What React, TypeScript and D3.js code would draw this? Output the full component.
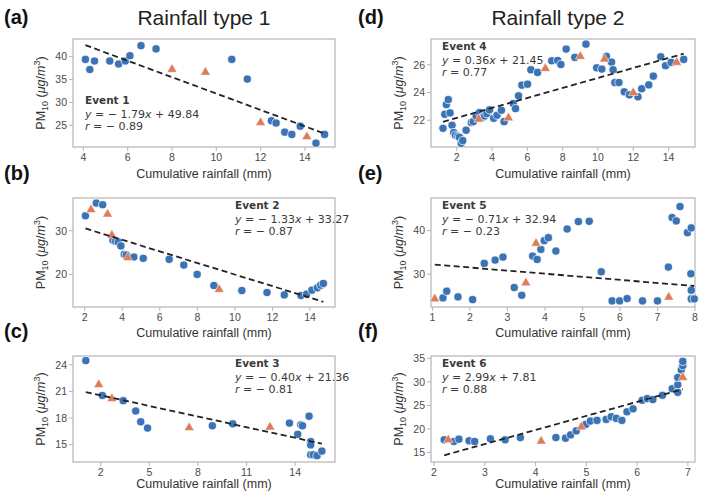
import * as d3 from "d3";

// Observed PM10 vs cumulative rainfall, [rainfall mm, PM10]
const event1Obs: [number, number][] = [
  [4.09, 39.4], [4.29, 37.2], [4.5, 39.05], [5.19, 39.05], [5.59, 38.4], [5.89, 39.05],
  [6.1, 40.2], [6.6, 42.4], [7.28, 41.7], [10.7, 39.4], [11.4, 35.1], [12.49, 26.0],
  [12.7, 25.5], [13.09, 23.5], [13.41, 23.0], [13.79, 24.8], [14.5, 21.1], [14.89, 23.0],
];
const event1Tri: [number, number][] = [[8.0, 37.2], [9.51, 36.6], [12.0, 25.6], [14.09, 22.5]];

const event2Obs: [number, number][] = [
  [2.04, 33.46], [2.62, 36.38], [2.96, 36.0], [3.51, 27.85], [3.65, 27.6], [3.79, 27.46],
  [3.93, 26.54], [4.11, 24.6], [4.22, 24.46], [4.62, 24.0], [5.12, 23.7], [6.5, 23.46],
  [7.28, 22.15], [7.99, 20.0], [8.88, 17.46], [10.37, 16.3], [11.71, 15.85], [12.63, 15.3],
  [13.52, 15.15], [13.82, 15.46], [14.1, 16.38], [14.39, 16.92], [14.57, 17.54], [14.71, 17.92],
];
const event2Tri: [number, number][] = [[2.34, 34.85], [3.22, 33.85], [3.45, 29.0], [4.29, 23.85], [9.16, 16.54]];

const event3Obs: [number, number][] = [
  [1.08, 24.48], [2.1, 20.54], [3.39, 19.95], [4.16, 18.79], [4.47, 17.57], [4.89, 16.86],
  [8.89, 17.12], [10.15, 17.34], [13.65, 17.42], [14.16, 16.15], [14.35, 17.23], [14.45, 17.12],
  [14.86, 18.2], [14.96, 15.33], [14.96, 14.96], [14.96, 13.85], [15.12, 13.85], [15.35, 13.74],
  [15.65, 14.26],
];
const event3Tri: [number, number][] = [[1.88, 21.77], [2.69, 20.17], [7.46, 16.9], [12.45, 16.97]];

const event4Obs: [number, number][] = [
  [1.22, 21.42], [1.32, 22.43], [1.41, 23.13], [1.52, 23.49], [1.62, 22.53], [1.73, 21.64],
  [1.83, 21.11], [1.92, 20.92], [2.06, 20.84], [2.15, 20.77], [2.25, 20.34], [2.34, 20.53],
  [2.53, 21.28], [2.82, 21.83], [2.93, 21.9], [3.1, 22.31], [3.29, 22.55], [3.48, 22.22],
  [3.58, 22.31], [3.71, 22.48], [3.86, 22.75], [4.09, 22.14], [4.28, 22.36], [4.53, 22.72],
  [4.68, 21.9], [5.2, 23.2], [5.33, 22.84], [5.5, 23.76], [5.69, 24.53], [6.01, 24.6],
  [6.2, 25.64], [6.58, 25.45], [7.38, 26.29], [7.72, 26.31], [7.9, 26.02], [8.2, 27.13],
  [8.69, 26.53], [9.32, 27.49], [9.93, 25.78], [10.22, 25.69], [10.48, 26.6], [10.77, 26.19],
  [10.86, 25.64], [10.96, 24.72], [11.19, 24.72], [11.49, 24.05], [11.78, 23.83], [12.27, 23.69],
  [12.48, 24.27], [12.88, 24.55], [13.14, 25.18], [13.56, 26.58], [13.83, 25.93], [14.15, 26.17],
  [14.86, 26.39],
];
const event4Tri: [number, number][] = [
  [3.24, 22.07], [4.93, 22.17], [7.02, 25.73], [9.0, 26.6], [10.37, 26.41], [12.0, 23.99], [14.46, 26.17],
];

const event5Obs: [number, number][] = [
  [1.28, 24.54], [1.38, 26.08], [1.68, 24.77], [2.07, 24.15], [2.38, 32.46], [2.67, 33.23],
  [2.88, 33.92], [3.18, 26.92], [3.38, 25.15], [3.67, 34.15], [3.79, 33.38], [3.89, 35.69],
  [3.98, 37.69], [4.09, 38.38], [4.29, 35.31], [4.59, 40.38], [4.89, 42.08], [5.18, 42.15],
  [5.5, 30.54], [5.79, 23.85], [5.99, 23.85], [6.19, 24.38], [6.6, 23.85], [7.0, 23.85],
  [7.29, 31.62], [7.39, 43.0], [7.5, 42.23], [7.6, 45.54], [7.8, 39.54], [7.9, 40.62],
  [7.89, 30.08], [7.9, 26.3], [7.9, 24.3], [7.98, 24.3],
];
const event5Tri: [number, number][] = [[1.06, 24.3], [3.49, 28.0], [3.76, 37.08], [7.3, 24.7]];

const event6Obs: [number, number][] = [
  [2.2, 17.67], [2.39, 17.32], [2.49, 17.81], [2.69, 17.46], [2.8, 17.32], [3.11, 17.88],
  [3.4, 17.67], [3.7, 18.16], [4.4, 18.16], [4.59, 18.02], [4.69, 18.72], [4.8, 19.56],
  [4.99, 20.96], [5.08, 21.67], [5.21, 21.81], [5.39, 22.02], [5.49, 22.58], [5.59, 22.23],
  [5.7, 21.81], [5.8, 23.63], [5.92, 24.26], [6.1, 26.09], [6.2, 26.44], [6.31, 26.23],
  [6.5, 27.14], [6.69, 28.54], [6.8, 27.77], [6.8, 29.39], [6.8, 30.93], [6.87, 32.54],
  [6.9, 33.46], [6.9, 34.37],
];
const event6Tri: [number, number][] = [[2.28, 17.67], [4.11, 17.39], [4.9, 20.4], [6.9, 30.93]];

const circleSets = [event1Obs, event2Obs, event3Obs, event4Obs, event5Obs, event6Obs];
const triangleSets = [event1Tri, event2Tri, event3Tri, event4Tri, event5Tri, event6Tri];

// linear fit per event
const fitSlope = [-1.79, -1.33, -0.4, 0.36, -0.71, 2.99];
const fitIntercept = [49.84, 33.27, 21.36, 21.45, 32.94, 7.81];
const fitR = [-0.89, -0.87, -0.81, 0.77, -0.23, 0.88];

const eventNames = ["Event 1", "Event 2", "Event 3", "Event 4", "Event 5", "Event 6"];
const panelTags = ["(a)", "(b)", "(c)", "(d)", "(e)", "(f)"];
const columnTitles = ["Rainfall type 1", "Rainfall type 2"];

const xTicks = [
  [4, 6, 8, 10, 12, 14],
  [2, 4, 6, 8, 10, 12, 14],
  [2, 5, 8, 11, 14],
  [2, 4, 6, 8, 10, 12, 14],
  [1, 2, 3, 4, 5, 6, 7, 8],
  [2, 3, 4, 5, 6, 7],
];
const yTicks = [
  [25, 30, 35, 40],
  [20, 30],
  [15, 18, 21, 24],
  [22, 24, 26],
  [30, 40],
  [15, 20, 25, 30, 35],
];
const xDomains: [number, number][] = [
  [3.53, 15.36], [1.38, 15.33], [0.29, 16.46], [0.54, 15.5], [0.96, 8.0], [1.94, 7.14],
];
const yDomains: [number, number][] = [
  [20.26, 43.86], [12.52, 37.55], [13.03, 25.0], [20.07, 27.86], [22.45, 47.5], [12.96, 35.5],
];

const W = 701;
const H = 494;
const colX = [[73, 335], [431, 695]];
const rowY = [[39, 147], [198, 307], [356, 462]];
const xLabelGap = [31, 30, 26];

const BLUE = "#3b73b5";
const ORANGE = "#de7c57";
const FRAME = "#b5b5b5";
const TICK_TEXT = "#4a4a4a";
const SANS = "'Liberation Sans', Arial, sans-serif";
const MATH = "'DejaVu Sans', sans-serif";

const triangle = d3.symbol(d3.symbolTriangle, 42)();

function fmtNum(v: number) {
  return v < 0 ? `\u2212 ${Math.abs(v).toFixed(2)}` : v.toFixed(2);
}

function Panel({ i }: { i: number }) {
  const col = i < 3 ? 0 : 1;
  const row = i % 3;
  const [x0, x1] = colX[col];
  const [y0, y1] = rowY[row];
  const x = d3.scaleLinear().domain(xDomains[i]).range([x0, x1]);
  const y = d3.scaleLinear().domain(yDomains[i]).range([y1, y0]);

  const allX = [...circleSets[i], ...triangleSets[i]].map((d) => d[0]);
  const [lx0, lx1] = d3.extent(allX) as [number, number];
  const fit = (v: number) => fitSlope[i] * v + fitIntercept[i];
  const line = d3.line<number>().x((v) => x(v)).y((v) => y(fit(v)));

  // annotation anchor
  let ax = x0 + 11;
  let ay = y0 + 11;
  if (i === 0) {
    ax = x0 + 12;
    ay = y1 - 43;
  } else if (i === 1 || i === 2) {
    ax = x0 + 162;
  }

  const midY = (y0 + y1) / 2;
  const midX = (x0 + x1) / 2;
  const tagY = row === 0 ? 24 : y0 - 18;
  const tagX = col === 0 ? 4 : 358;

  return (
    <g>
      <text x={tagX} y={tagY} fontFamily={SANS} fontWeight="bold" fontSize={20} fill="#111">
        {panelTags[i]}
      </text>

      {/* ticks */}
      {xTicks[i].map((t) => (
        <g key={`x${t}`}>
          <line x1={x(t)} x2={x(t)} y1={y1} y2={y1 + 4} stroke={FRAME} strokeWidth={1} />
          <text x={x(t)} y={y1 + 13.5} textAnchor="middle" fontFamily={SANS} fontSize={10.5} fill={TICK_TEXT}>
            {t}
          </text>
        </g>
      ))}
      {yTicks[i].map((t) => (
        <g key={`y${t}`}>
          <line x1={x0 - 4} x2={x0} y1={y(t)} y2={y(t)} stroke={FRAME} strokeWidth={1} />
          <text x={x0 - 6} y={y(t) + 3.8} textAnchor="end" fontFamily={SANS} fontSize={10.5} fill={TICK_TEXT}>
            {t}
          </text>
        </g>
      ))}

      {/* frame */}
      <rect x={x0} y={y0} width={x1 - x0} height={y1 - y0} fill="none" stroke={FRAME} strokeWidth={1.2} />

      {/* points */}
      {circleSets[i].map((d, k) => (
        <circle key={`c${k}`} cx={x(d[0])} cy={y(d[1])} r={4.1} fill={BLUE} stroke="#fff" strokeWidth={0.7} />
      ))}
      {triangleSets[i].map((d, k) => (
        <path
          key={`t${k}`}
          d={triangle}
          transform={`translate(${x(d[0])},${y(d[1])})`}
          fill={ORANGE}
          stroke="#fff"
          strokeWidth={0.5}
        />
      ))}

      {/* fitted line */}
      <path d={line([lx0, lx1]) ?? ""} fill="none" stroke="#222" strokeWidth={1.8} strokeDasharray="6,3.5" />

      {/* regression annotation */}
      <g fontFamily={MATH} fontSize={11} fill="#3a3a3a">
        <text x={ax} y={ay} fontWeight="bold" fontSize={10.5}>
          {eventNames[i]}
        </text>
        <text x={ax} y={ay + 14}>
          <tspan fontStyle="italic">y</tspan>
          {` = ${fmtNum(fitSlope[i])}`}
          <tspan fontStyle="italic">x</tspan>
          {` + ${fitIntercept[i].toFixed(2)}`}
        </text>
        <text x={ax} y={ay + 26}>
          <tspan fontStyle="italic">r</tspan>
          {` = ${fmtNum(fitR[i])}`}
        </text>
      </g>

      {/* axis labels */}
      <text x={midX} y={y1 + xLabelGap[row]} textAnchor="middle" fontFamily={SANS} fontSize={12.5} fill="#333">
        Cumulative rainfall (mm)
      </text>
      <text
        transform={`translate(${x0 - 28},${midY}) rotate(-90)`}
        textAnchor="middle"
        fontFamily={SANS}
        fontSize={12.5}
        fill="#333"
      >
        PM
        <tspan fontSize={9} dy={3}>10</tspan>
        <tspan dy={-3}> (</tspan>
        <tspan fontStyle="italic">μg</tspan>/<tspan fontStyle="italic">m</tspan>
        <tspan fontSize={9} dy={-5}>3</tspan>
        <tspan dy={5}>)</tspan>
      </text>
    </g>
  );
}

export default function App() {
  return (
    <svg
      width={W}
      height={H}
      style={{ position: "absolute", left: 0, top: 0, background: "#fff" }}
    >
      {columnTitles.map((t, c) => (
        <text
          key={t}
          x={c === 0 ? 204 : 558}
          y={25}
          textAnchor="middle"
          fontFamily={SANS}
          fontSize={21}
          fill="#222"
        >
          {t}
        </text>
      ))}
      {d3.range(6).map((i) => (
        <Panel key={i} i={i} />
      ))}
    </svg>
  );
}
